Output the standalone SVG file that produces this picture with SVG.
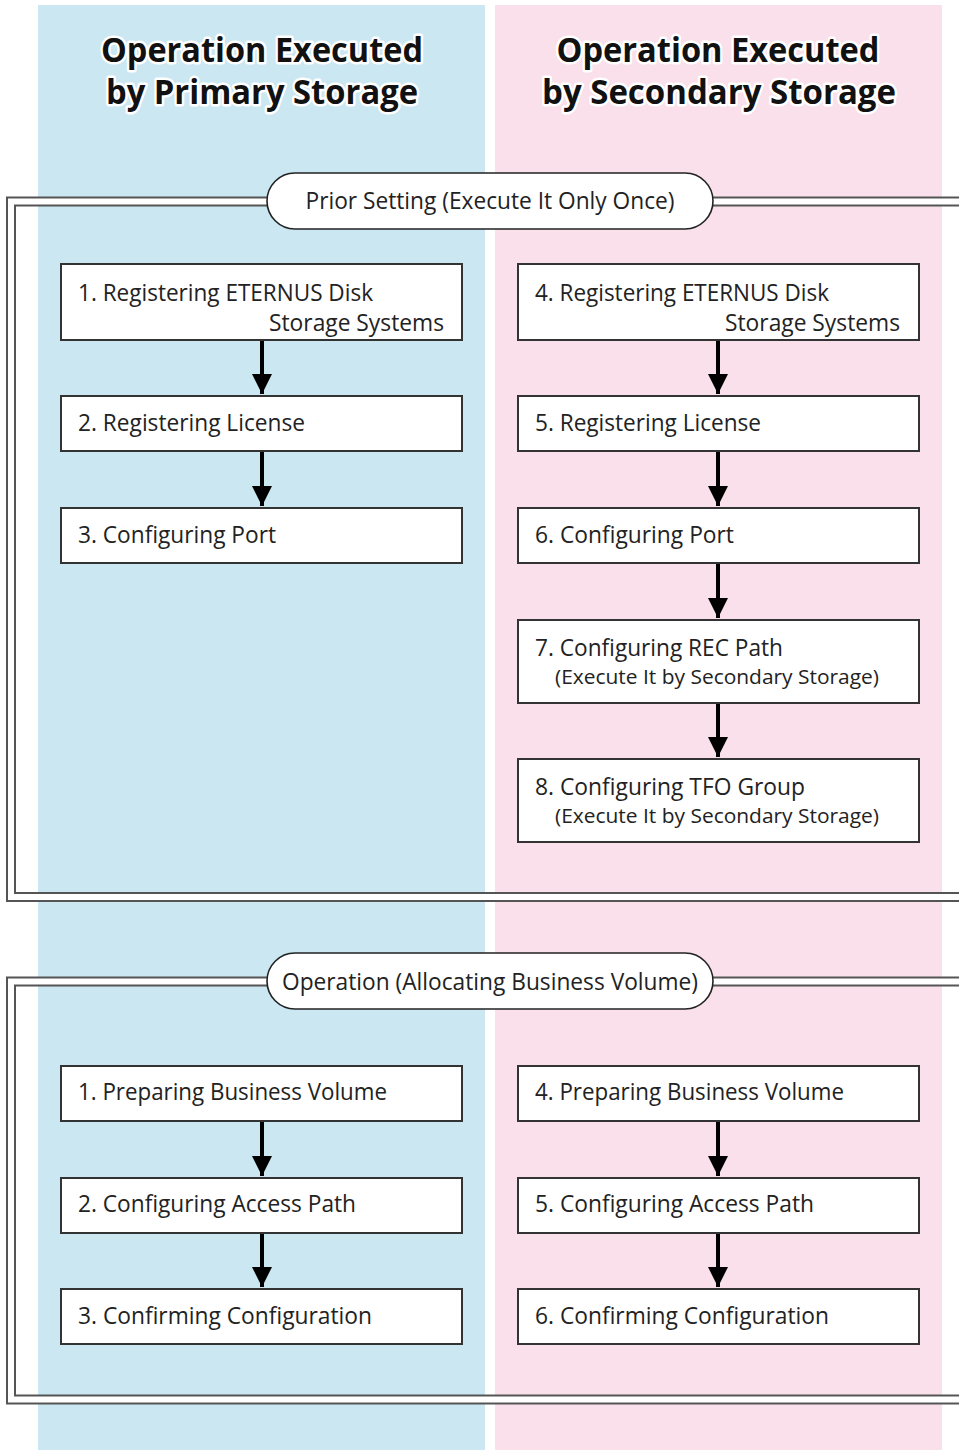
<svg xmlns="http://www.w3.org/2000/svg" width="959" height="1450" viewBox="0 0 959 1450">
<style>
.head{font-family:"Open Sans","Liberation Sans",sans-serif;font-weight:bold;font-size:34px;fill:#111;stroke:#fff;stroke-width:5px;stroke-linejoin:round;paint-order:stroke}
.t{font-family:"Open Sans","Liberation Sans",sans-serif;font-size:23px;fill:#222}
.s{font-family:"Open Sans","Liberation Sans",sans-serif;font-size:20px;fill:#222}
.box{fill:#fff;stroke:#333;stroke-width:2}
.pill{fill:#fff;stroke:#222;stroke-width:1.6}
.fo{fill:none;stroke:#555;stroke-width:10}
.fi{fill:none;stroke:#fff;stroke-width:6}
.arr{stroke:#000;stroke-width:4;fill:none}
</style>
<defs>
<marker id="ah" viewBox="0 0 10 10" refX="10" refY="5" markerWidth="5.5" markerHeight="5" markerUnits="strokeWidth" orient="auto">
<path d="M0,0 L10,5 L0,10 z" fill="#000"/>
</marker>
</defs>
<rect x="0" y="0" width="959" height="1450" fill="#fff"/>
<g id="columns">
<rect id="col-primary" x="38" y="5" width="447" height="1445" fill="#cae7f2"/>
<rect id="col-secondary" x="495" y="5" width="447" height="1445" fill="#f9e0ea"/>
</g>
<g id="headings">
<text class="head" x="262" y="62" text-anchor="middle" textLength="322" lengthAdjust="spacingAndGlyphs">Operation Executed</text>
<text class="head" x="262" y="104" text-anchor="middle" textLength="312" lengthAdjust="spacingAndGlyphs">by Primary Storage</text>
<text class="head" x="718" y="62" text-anchor="middle" textLength="323" lengthAdjust="spacingAndGlyphs">Operation Executed</text>
<text class="head" x="719" y="104" text-anchor="middle" textLength="354" lengthAdjust="spacingAndGlyphs">by Secondary Storage</text>
</g>
<g id="frames">
<path class="fo" d="M280 201.5 H11 V897 H970 M700 201.5 H970"/>
<path class="fi" d="M280 201.5 H11 V897 H970 M700 201.5 H970"/>
<path class="fo" d="M280 981.5 H11 V1399.5 H970 M700 981.5 H970"/>
<path class="fi" d="M280 981.5 H11 V1399.5 H970 M700 981.5 H970"/>
</g>
<g id="pill-prior">
<rect class="pill" x="267" y="173" width="446" height="56" rx="28"/>
<text class="t" x="490" y="209" text-anchor="middle" textLength="369" lengthAdjust="spacingAndGlyphs">Prior Setting (Execute It Only Once)</text>
</g>
<g id="pill-operation">
<rect class="pill" x="267" y="953" width="446" height="56" rx="28"/>
<text class="t" x="490" y="990" text-anchor="middle" textLength="416" lengthAdjust="spacingAndGlyphs">Operation (Allocating Business Volume)</text>
</g>
<g id="connectors">
<line class="arr" x1="262" y1="341" x2="262" y2="394" marker-end="url(#ah)"/>
<line class="arr" x1="262" y1="452" x2="262" y2="506" marker-end="url(#ah)"/>
<line class="arr" x1="718" y1="341" x2="718" y2="394" marker-end="url(#ah)"/>
<line class="arr" x1="718" y1="452" x2="718" y2="506" marker-end="url(#ah)"/>
<line class="arr" x1="718" y1="564" x2="718" y2="618" marker-end="url(#ah)"/>
<line class="arr" x1="718" y1="704" x2="718" y2="757" marker-end="url(#ah)"/>
<line class="arr" x1="262" y1="1122" x2="262" y2="1176" marker-end="url(#ah)"/>
<line class="arr" x1="262" y1="1234" x2="262" y2="1287" marker-end="url(#ah)"/>
<line class="arr" x1="718" y1="1122" x2="718" y2="1176" marker-end="url(#ah)"/>
<line class="arr" x1="718" y1="1234" x2="718" y2="1287" marker-end="url(#ah)"/>
</g>
<g id="p1"><rect class="box" x="61" y="264" width="401" height="76"/>
<text class="t" x="78" y="301" textLength="295" lengthAdjust="spacingAndGlyphs">1. Registering ETERNUS Disk</text>
<text class="t" x="444" y="331" text-anchor="end" textLength="175" lengthAdjust="spacingAndGlyphs">Storage Systems</text></g>
<g id="p2"><rect class="box" x="61" y="396" width="401" height="55"/>
<text class="t" x="78" y="431" textLength="227" lengthAdjust="spacingAndGlyphs">2. Registering License</text></g>
<g id="p3"><rect class="box" x="61" y="508" width="401" height="55"/>
<text class="t" x="78" y="543" textLength="198" lengthAdjust="spacingAndGlyphs">3. Configuring Port</text></g>
<g id="s4"><rect class="box" x="518" y="264" width="401" height="76"/>
<text class="t" x="535" y="301" textLength="294" lengthAdjust="spacingAndGlyphs">4. Registering ETERNUS Disk</text>
<text class="t" x="900" y="331" text-anchor="end" textLength="175" lengthAdjust="spacingAndGlyphs">Storage Systems</text></g>
<g id="s5"><rect class="box" x="518" y="396" width="401" height="55"/>
<text class="t" x="535" y="431" textLength="226" lengthAdjust="spacingAndGlyphs">5. Registering License</text></g>
<g id="s6"><rect class="box" x="518" y="508" width="401" height="55"/>
<text class="t" x="535" y="543" textLength="199" lengthAdjust="spacingAndGlyphs">6. Configuring Port</text></g>
<g id="s7"><rect class="box" x="518" y="620" width="401" height="83"/>
<text class="t" x="535" y="656" textLength="248" lengthAdjust="spacingAndGlyphs">7. Configuring REC Path</text>
<text class="s" x="555" y="684" textLength="324" lengthAdjust="spacingAndGlyphs">(Execute It by Secondary Storage)</text></g>
<g id="s8"><rect class="box" x="518" y="759" width="401" height="83"/>
<text class="t" x="535" y="795" textLength="270" lengthAdjust="spacingAndGlyphs">8. Configuring TFO Group</text>
<text class="s" x="555" y="823" textLength="324" lengthAdjust="spacingAndGlyphs">(Execute It by Secondary Storage)</text></g>
<g id="o1"><rect class="box" x="61" y="1066" width="401" height="55"/>
<text class="t" x="78" y="1100" textLength="309" lengthAdjust="spacingAndGlyphs">1. Preparing Business Volume</text></g>
<g id="o2"><rect class="box" x="61" y="1178" width="401" height="55"/>
<text class="t" x="78" y="1212" textLength="278" lengthAdjust="spacingAndGlyphs">2. Configuring Access Path</text></g>
<g id="o3"><rect class="box" x="61" y="1289" width="401" height="55"/>
<text class="t" x="78" y="1324" textLength="294" lengthAdjust="spacingAndGlyphs">3. Confirming Configuration</text></g>
<g id="o4"><rect class="box" x="518" y="1066" width="401" height="55"/>
<text class="t" x="535" y="1100" textLength="309" lengthAdjust="spacingAndGlyphs">4. Preparing Business Volume</text></g>
<g id="o5"><rect class="box" x="518" y="1178" width="401" height="55"/>
<text class="t" x="535" y="1212" textLength="279" lengthAdjust="spacingAndGlyphs">5. Configuring Access Path</text></g>
<g id="o6"><rect class="box" x="518" y="1289" width="401" height="55"/>
<text class="t" x="535" y="1324" textLength="294" lengthAdjust="spacingAndGlyphs">6. Confirming Configuration</text></g>
</svg>
